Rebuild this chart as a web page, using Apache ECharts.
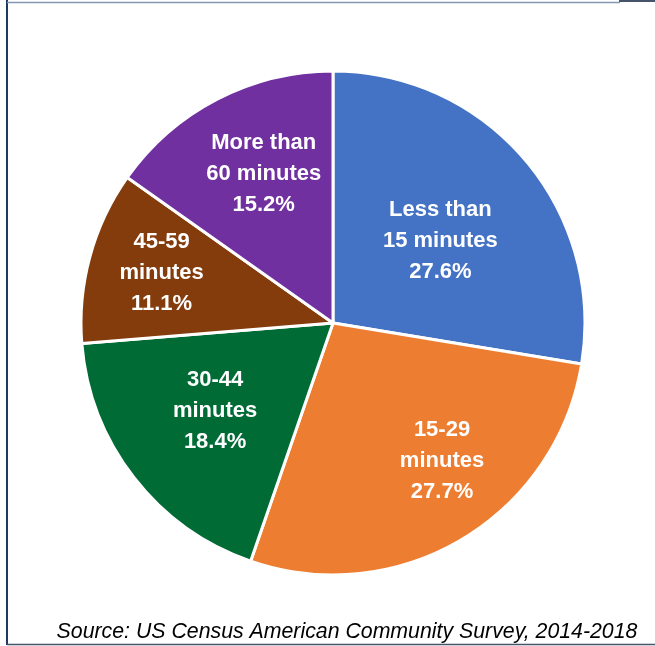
<!DOCTYPE html>
<html>
<head>
<meta charset="utf-8">
<script src="https://cdn.jsdelivr.net/npm/echarts@6/dist/echarts.min.js"></script>
<style>html,body{margin:0;padding:0;background:#fff;}#c{width:655px;height:646px;}</style>
</head>
<body>
<div id="c"></div>
<script>
const categories = ['Less than\n15 minutes', '15-29\nminutes', '30-44\nminutes', '45-59\nminutes', 'More than\n60 minutes'];
const values = [27.6, 27.7, 18.4, 11.1, 15.2];
const colors = ['#4472C4', '#ED7D31', '#006B35', '#843C0C', '#7030A0'];
const labelOffsets = [[9, 1], [43, 27], [-16, 9], [-47, -16], [-10, -34]];
const sourceText = 'Source: US Census American Community Survey, 2014-2018';

const chart = echarts.init(document.getElementById('c'), null, {renderer: 'canvas'});
chart.setOption({
  animation: false,
  backgroundColor: '#ffffff',
  series: [{
    type: 'pie',
    center: [333, 323],
    radius: [0, 252],
    startAngle: 90,
    clockwise: true,
    avoidLabelOverlap: false,
    itemStyle: {borderColor: '#ffffff', borderWidth: 3},
    label: {
      show: true,
      position: 'inside',
      color: '#ffffff',
      fontFamily: 'Liberation Sans, Arial, sans-serif',
      fontWeight: 'bold',
      fontSize: 22,
      lineHeight: 31,
      align: 'center',
      formatter: p => p.name + '\n' + p.value.toFixed(1) + '%'
    },
    labelLine: {show: false},
    data: categories.map((c, i) => ({
      name: c, value: values[i],
      itemStyle: {color: colors[i]},
      label: {offset: labelOffsets[i]}
    }))
  }],
  graphic: [
    {type: 'line', shape: {x1: 7, y1: 0, x2: 7, y2: 645}, style: {stroke: '#1F3864', lineWidth: 2}},
    {type: 'line', shape: {x1: 7, y1: 2.5, x2: 620, y2: 2.5}, style: {stroke: '#8497B0', lineWidth: 1.5}},
    {type: 'line', shape: {x1: 619, y1: 1, x2: 655, y2: 1}, style: {stroke: '#44546A', lineWidth: 2}},
    {type: 'line', shape: {x1: 7, y1: 644.5, x2: 655, y2: 644.5}, style: {stroke: '#44546A', lineWidth: 1.5}},
    {type: 'text', x: 347, y: 632, style: {text: sourceText, fill: '#000000', font: 'italic 21.3px "Liberation Sans", Arial, sans-serif', textAlign: 'center', textVerticalAlign: 'middle'}}
  ]
});
</script>
</body>
</html>
